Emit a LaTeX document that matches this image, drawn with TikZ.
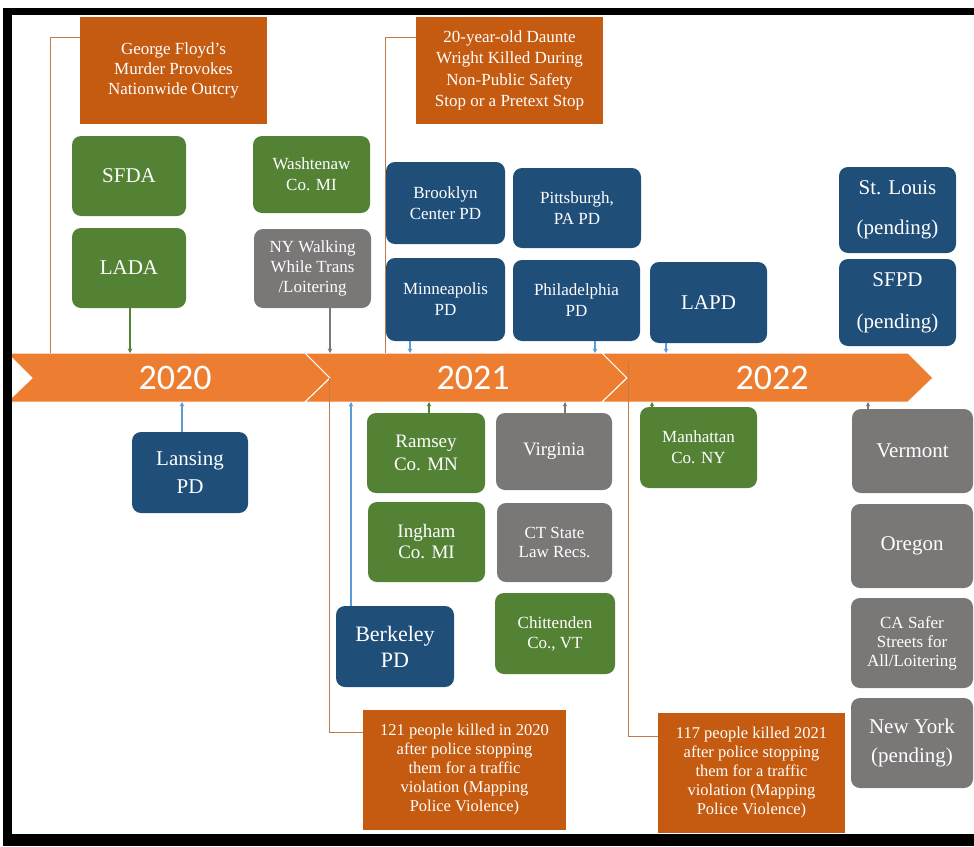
\documentclass[tikz,border=0pt]{standalone}
\usepackage{fontspec}
\setmainfont{Liberation Serif}
\newfontfamily\yearfont{Carlito}
\usetikzlibrary{arrows.meta,calc,positioning}

\definecolor{tlorange}{HTML}{ED7D31}
\definecolor{evorange}{HTML}{C55A11}
\definecolor{boxgreen}{HTML}{548235}
\definecolor{boxblue}{HTML}{1F4E79}
\definecolor{boxgray}{HTML}{7A7777}
\definecolor{conblue}{HTML}{5B9BD5}
\definecolor{brkcol}{HTML}{C07A4C}

\begin{document}
\begin{tikzpicture}[x=1pt,y=-1pt,
  box/.style={rounded corners=9pt, text=white, align=center, inner sep=0pt},
  evbox/.style={fill=evorange, text=white, align=center, inner sep=0pt,
    font=\fontsize{17}{20}\selectfont},
  grbox/.style={box, fill=boxgreen},
  blbox/.style={box, fill=boxblue},
  gybox/.style={box, fill=boxgray},
  sz/.style 2 args={minimum width=#1, minimum height=#2},
  smtxt/.style={font=\fontsize{17}{21}\selectfont},
  mdtxt/.style={font=\fontsize{19}{23}\selectfont},
  lgtxt/.style={font=\fontsize{21}{27}\selectfont},
  yearlbl/.style={text=white, font=\yearfont\fontsize{36}{36}\selectfont},
  con/.style={line width=1.1pt, -{Stealth[length=4.5pt,width=4.5pt]}},
  evline/.style={draw=brkcol, line width=1pt}
]
  \useasboundingbox (0,0) rectangle (974,846);

  % Timeline
  \foreach \a/\b in {7/305, 305/602, 602/908} {
    \fill[tlorange, draw=white, line width=1pt] (\a,353) -- (\b,353) -- (\b+25,378)
      -- (\b,402) -- (\a,402) -- (\a+25,378) -- cycle;
  }
  \coordinate (tltop) at (0,353);
  \coordinate (tlbot) at (0,402);
  \node[yearlbl] (y2020) at (175,378) {2020};
  \node[yearlbl] (y2021) at (473,378) {2021};
  \node[yearlbl] (y2022) at (772,378) {2022};

  % Events
  \node[evbox, sz={187}{107}] (floyd) at (173.5,70.5)
    {George Floyd’s\\Murder Provokes\\Nationwide Outcry};
  \node[evbox, sz={187}{107}, font=\fontsize{17}{21.5}\selectfont] (daunte) at (509.5,70.5)
    {20-year-old Daunte\\Wright Killed During\\Non-Public Safety\\Stop or a Pretext Stop};
  \node[evbox, sz={203}{120}, font=\fontsize{16.5}{19}\selectfont] (killA) at (464.5,770)
    {121 people killed in 2020\\after police stopping\\them for a traffic\\violation (Mapping\\Police Violence)};
  \node[evbox, sz={187}{120}, font=\fontsize{16.5}{19}\selectfont] (killB) at (751.5,773)
    {117 people killed 2021\\after police stopping\\them for a traffic\\violation (Mapping\\Police Violence)};

  \coordinate (tlF) at (50,353);
  \coordinate (tlD) at (385,353);
  \coordinate (tlA) at (329,378);
  \coordinate (tlB) at (628,362);
  \draw[evline] ([yshift=-21]floyd.north west) -| (tlF);
  \draw[evline] ([yshift=-21]daunte.north west) -| (tlD);
  \draw[evline] ([yshift=-23]killA.north west) -| (tlA);
  \draw[evline] ([yshift=-24]killB.north west) -| (tlB);

  % 2020 boxes
  \node[grbox, lgtxt, sz={114}{80}] (sfda) at (129,176) {SFDA};
  \node[grbox, lgtxt, sz={114}{80}] (lada) at (129,268) {LADA};
  \node[grbox, smtxt, sz={117}{77}] (washt) at (311.5,174.5) {Washtenaw\\Co. MI};
  \node[gybox, smtxt, font=\fontsize{17}{20}\selectfont, sz={117}{79}] (nywalk) at (312.5,268.5)
    {NY Walking\\While Trans\\/Loitering};
  \node[blbox, lgtxt, font=\fontsize{21}{28}\selectfont, sz={116}{81}] (lansing) at (190,472.5) {Lansing\\PD};

  % 2021 boxes
  \node[blbox, smtxt, sz={119}{82}] (brook) at (445.5,203) {Brooklyn\\Center PD};
  \node[blbox, smtxt, sz={128}{80}] (pitts) at (577,208) {Pittsburgh,\\PA PD};
  \node[blbox, smtxt, sz={119}{83}] (minne) at (445.5,299.5) {Minneapolis\\PD};
  \node[blbox, smtxt, sz={127}{81}] (phila) at (576.5,300.5) {Philadelphia\\PD};
  \node[grbox, mdtxt, sz={118}{80}] (ramsey) at (426,453) {Ramsey\\Co. MN};
  \node[grbox, mdtxt, font=\fontsize{19}{21}\selectfont, sz={117}{80}] (ingham) at (426.5,542) {Ingham\\Co. MI};
  \node[blbox, lgtxt, font=\fontsize{22}{26}\selectfont, sz={118}{81}] (berkeley) at (395,646.5) {Berkeley\\PD};
  \node[gybox, mdtxt, sz={116}{77}] (virginia) at (554,451.5) {Virginia};
  \node[gybox, smtxt, font=\fontsize{17}{19}\selectfont, sz={115}{79}] (ctstate) at (554.5,542.5) {CT State\\Law Recs.};
  \node[grbox, smtxt, font=\fontsize{17}{20}\selectfont, sz={120}{81}] (chitt) at (555,633.5) {Chittenden\\Co., VT};

  % 2022 boxes
  \node[blbox, lgtxt, sz={117}{81}] (lapd) at (708.5,302.5) {LAPD};
  \node[grbox, smtxt, sz={117}{81}] (manh) at (698.5,447.5) {Manhattan\\Co. NY};
  \node[blbox, lgtxt, font=\fontsize{21}{40}\selectfont, sz={117}{86}] (stlouis) at (897.5,210) {St. Louis\\(pending)};
  \node[blbox, lgtxt, font=\fontsize{21}{42}\selectfont, sz={117}{87}] (sfpd) at (897.5,302.5) {SFPD\\(pending)};
  \node[gybox, lgtxt, sz={121}{84}] (vermont) at (912.5,451) {Vermont};
  \node[gybox, lgtxt, sz={122}{84}] (oregon) at (912,546) {Oregon};
  \node[gybox, smtxt, font=\fontsize{17}{19}\selectfont, sz={122}{90}] (casafer) at (912,643)
    {CA Safer\\Streets for\\All/Loitering};
  \node[gybox, lgtxt, font=\fontsize{21}{29}\selectfont, sz={122}{90}] (newyork) at (912,743) {New York\\(pending)};

  % Connectors above the timeline
  \foreach \n/\dx/\c in {lada/1/boxgreen, nywalk/17.5/boxgray, minne/-35.5/conblue,
      phila/18.5/conblue, lapd/-42.5/conblue} {
    \path ([xshift=\dx]\n.south) coordinate (\n-a);
    \draw[con, draw=\c] (\n-a) -- (\n-a |- tltop);
  }
  % Connectors below the timeline
  \foreach \n/\dx/\c in {lansing/-8/conblue, ramsey/3/boxgreen, berkeley/-44/conblue,
      virginia/11/boxgray, manh/-46.5/boxgreen, vermont/-44.5/boxgray} {
    \path ([xshift=\dx]\n.north) coordinate (\n-a);
    \draw[con, draw=\c] (\n-a) -- (\n-a |- tlbot);
  }

  % Frame
  \fill[black] (3,8) rectangle (12,846);
  \fill[black] (3,8) rectangle (974,15);
  \fill[black] (3,834) rectangle (974,846);
\end{tikzpicture}
\end{document}
